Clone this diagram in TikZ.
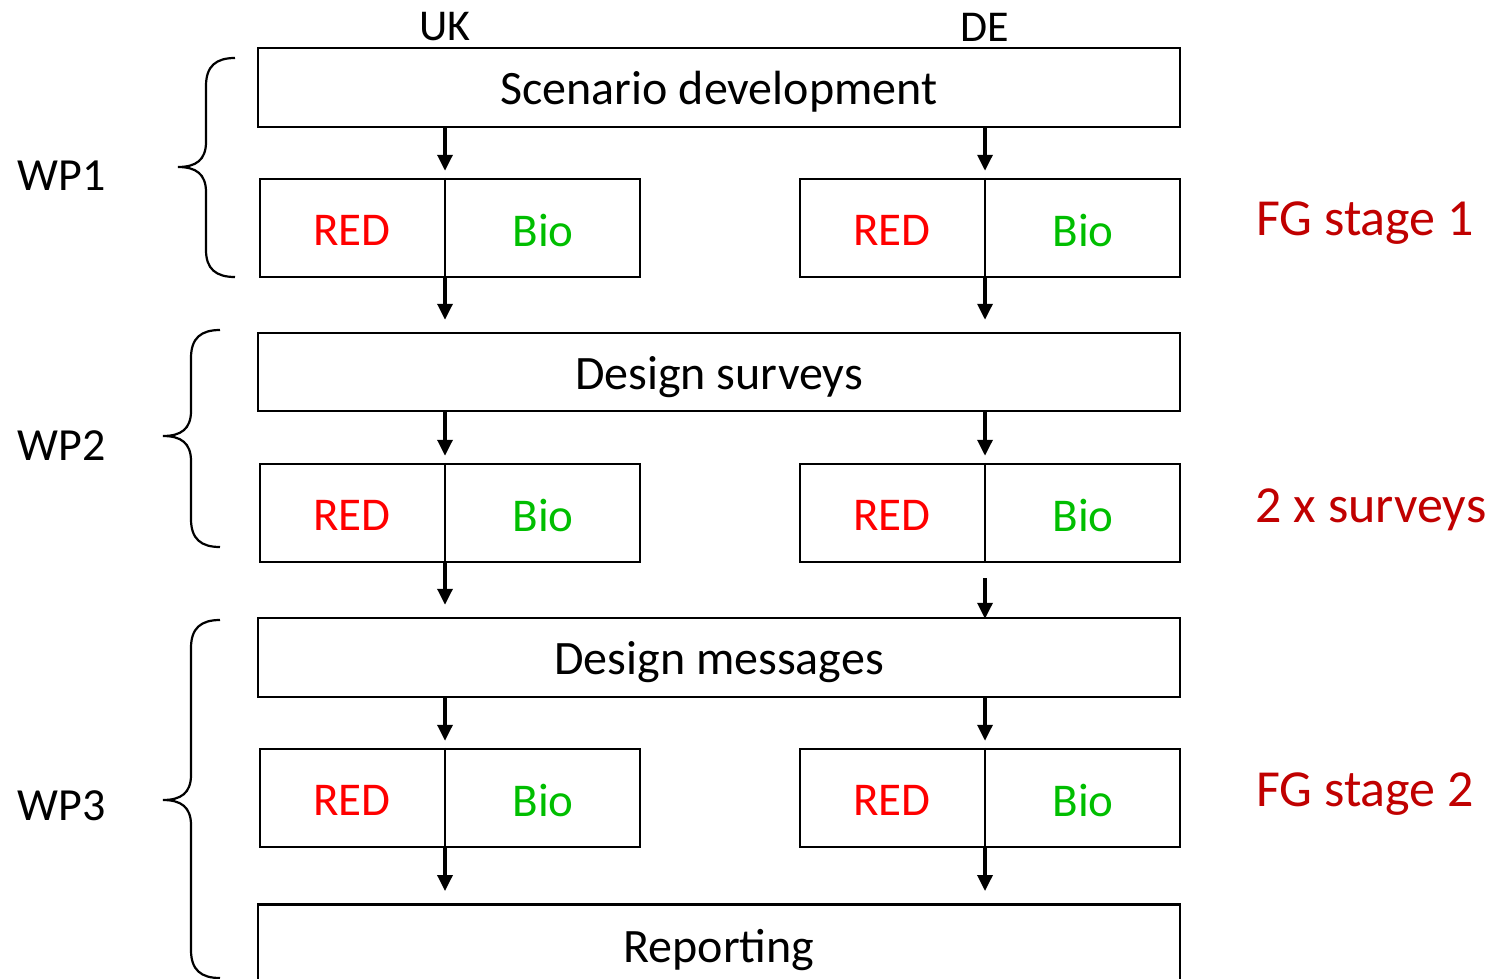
\documentclass[tikz,border=0pt]{standalone}
\usepackage{fontspec}
\setmainfont{Carlito}
\usetikzlibrary{arrows.meta}
\definecolor{redtxt}{RGB}{255,0,0}
\definecolor{biotxt}{RGB}{0,190,0}
\definecolor{fgred}{RGB}{192,0,0}
\tikzset{
  bigbox/.style={draw=black, line width=2.5bp, minimum width=922bp, inner sep=0pt, text height=44bp, text depth=10bp, font=\fontsize{48bp}{56bp}\selectfont},
  smallbox/.style={draw=black, line width=2.5bp, minimum width=380bp, minimum height=98bp, inner sep=0pt},
  redlab/.style={text=redtxt, font=\fontsize{47bp}{56bp}\selectfont, inner sep=0pt},
  biolab/.style={text=biotxt, font=\fontsize{47bp}{56bp}\selectfont, inner sep=0pt},
  collab/.style={font=\fontsize{44bp}{52bp}\selectfont, inner sep=0pt},
  wplab/.style={font=\fontsize{46bp}{54bp}\selectfont, inner sep=0pt},
  fglab/.style={text=fgred, font=\fontsize{52bp}{60bp}\selectfont, inner sep=0pt},
  divider/.style={line width=2.2bp},
  flow/.style={line width=3.4bp, -{Triangle[length=16bp, width=15bp]}},
  wpbrace/.style={line width=2.2bp},
}
\begin{document}
\begin{tikzpicture}[x=1bp, y=-1bp]
\useasboundingbox (0,0) rectangle (1497,978);
% column labels
\node[collab] (uk) at (445,27) {UK};
\node[collab] (de) at (985,27) {DE};
% big boxes
\node[bigbox, minimum height=79bp] (sdev) at (719,87.5) {Scenario development};
\node[bigbox, minimum height=78bp] (dsur) at (719,372) {Design surveys};
\node[bigbox, minimum height=79bp] (dmes) at (719,657.5) {Design messages};
\node[bigbox, minimum height=82bp, anchor=north] (rep) at (719,903) {Reporting};
% small boxes
\node[smallbox] (r1l) at (450,228) {};
\node[smallbox] (r1r) at (990,228) {};
\node[smallbox] (r2l) at (450,513) {};
\node[smallbox] (r2r) at (990,513) {};
\node[smallbox] (r3l) at (450,798) {};
\node[smallbox] (r3r) at (990,798) {};
% RED / Bio labels
\foreach \r/\y in {1/230,2/515,3/800}{
  \node[redlab] (red\r l) at (352,\y) {RED};
  \node[biolab] (bio\r l) at (543,\y) {Bio};
  \node[redlab] (red\r r) at (892,\y) {RED};
  \node[biolab] (bio\r r) at (1083,\y) {Bio};
}
% dividers
\foreach \b in {r1l,r2l,r3l}{\draw[divider] (\b.north -| uk) -- (\b.south -| uk);}
\foreach \b in {r1r,r2r,r3r}{\draw[divider] (\b.north -| de) -- (\b.south -| de);}
% arrows
\foreach \c in {uk,de}{
  \draw[flow, shorten >=7bp] (sdev.south -| \c) -- (r1l.north -| \c);
  \draw[flow, shorten >=7bp] (dsur.south -| \c) -- (r2l.north -| \c);
  \draw[flow, shorten >=7bp] (dmes.south -| \c) -- (r3l.north -| \c);
  \draw[flow, shorten >=12bp] (r1l.south -| \c) -- (dsur.north -| \c);
  \draw[flow, shorten >=12bp] (r3l.south -| \c) -- (rep.north -| \c);
}
\draw[flow, shorten >=12bp] (r2l.south -| uk) -- (dmes.north -| uk);
\draw[flow, shorten <=15bp, shorten >=-2bp] (r2r.south -| de) -- (dmes.north -| de);
% WP labels
\node[wplab] (wp1) at (62,176) {WP1};
\node[wplab] (wp2) at (62,446) {WP2};
\node[wplab] (wp3) at (62,806) {WP3};
% braces
\draw[wpbrace] (235,58) .. controls (216,58) and (206,66) .. (206,86) -- (206,142)
  .. controls (206,160) and (196,167) .. (178,167)
  .. controls (196,167) and (206,174) .. (206,192) -- (206,250)
  .. controls (206,269) and (216,277) .. (235,277);
\draw[wpbrace] (220,330) .. controls (201,330) and (191,338) .. (191,358) -- (191,411)
  .. controls (191,429) and (181,436) .. (163,436)
  .. controls (181,436) and (191,443) .. (191,461) -- (191,519)
  .. controls (191,539) and (201,547) .. (220,547);
\draw[wpbrace] (220,620) .. controls (201,620) and (191,628) .. (191,648) -- (191,775)
  .. controls (191,793) and (181,800) .. (163,800)
  .. controls (181,800) and (191,807) .. (191,825) -- (191,950)
  .. controls (191,970) and (201,978) .. (220,978);
% FG labels
\node[fglab] (fg1) at (1365,223) {FG stage 1};
\node[fglab] (sv) at (1371,510) {2 x surveys};
\node[fglab] (fg2) at (1365,794) {FG stage 2};
\end{tikzpicture}
\end{document}
